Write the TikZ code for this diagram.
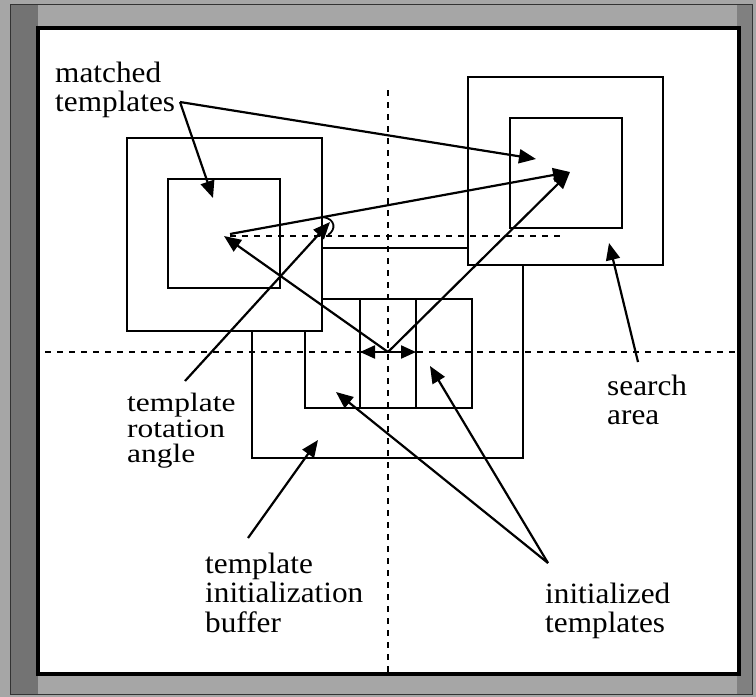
\documentclass[tikz,border=0pt]{standalone}
\usepackage{fontspec}
\setmainfont{Liberation Serif}
\usetikzlibrary{arrows.meta}
\begin{document}
\begin{tikzpicture}[x=1pt,y=-1pt,
  box/.style={draw=black,line width=2.4pt},
  guide/.style={draw=black,line width=2.2pt,dash pattern=on 6pt off 6pt},
  pointer/.style={draw=black,line width=2.2pt,-{Triangle[length=17pt,width=14pt]}},
  twohead/.style={draw=black,line width=2.2pt,{Triangle[length=15pt,width=13pt]}-{Triangle[length=15pt,width=13pt]}},
  lbl/.style={anchor=base west,inner sep=0pt,xscale=1.06,font=\fontsize{29.5}{30}\selectfont},
  smalllbl/.style={lbl,font=\fontsize{26.5}{27}\selectfont,xscale=1.12}
]
\useasboundingbox (0,0) rectangle (756,697);
% mount board and frame
\fill[black!35] (0,0) rectangle (756,697);
\fill[black!55] (10,4) rectangle (38,694);
\fill[black!50] (737,4) rectangle (752,694);
\draw[black!80,line width=1pt] (10,4) rectangle (752,694);
\fill[white] (40,30) rectangle (737,672);
\draw[black,line width=4pt] (38,28) rectangle (739,674);

% template initialization buffer and initialized templates
\draw[box] (252,248) rectangle (523,458);
\draw[box] (305,299) rectangle (472,408);
\draw[box] (360,299) -- (360,408);
\draw[box] (416,299) -- (416,408);

% search areas with matched templates
\draw[box,fill=white] (127,138) rectangle (322,331);
\draw[box] (168,179) rectangle (280,288);
\draw[box,fill=white] (468,77) rectangle (663,265);
\draw[box] (510,118) rectangle (622,228);

% reference axes
\draw[guide] (388,90) -- (388,672);
\draw[guide] (45,352) -- (735,352);
\draw[guide] (230,236) -- (562,236);

% key points
\coordinate (ctr) at (388,352);
\coordinate (pivotL) at (224,236);
\coordinate (tipR) at (570,172);
\coordinate (mtStart) at (180,102);
\coordinate (mtL) at (213,198);
\coordinate (mtR) at (536,159);
\coordinate (rotFoot) at (185,381);
\coordinate (rotTip) at (330,222);
\coordinate (saFoot) at (638,362);
\coordinate (saTip) at (609,243);
\coordinate (bufFoot) at (248,538);
\coordinate (bufTip) at (318,440);
\coordinate (itFoot) at (548,563);
\coordinate (itR) at (430,366);
\coordinate (itL) at (336,392);
\coordinate (cellL) at (360,352);
\coordinate (cellR) at (416,352);

% labels
\node[lbl] (mt1) at (55,82) {matched};
\node[lbl] (mt2) at (55,111) {templates};
\node[smalllbl] (ra1) at (127,411) {template};
\node[smalllbl] (ra2) at (127,437) {rotation};
\node[smalllbl] (ra3) at (127,462) {angle};
\node[lbl] (ib1) at (205,573) {template};
\node[lbl] (ib2) at (205,602) {initialization};
\node[lbl] (ib3) at (205,632) {buffer};
\node[lbl] (sa1) at (607,395) {search};
\node[lbl] (sa2) at (607,424) {area};
\node[lbl] (it1) at (545,603) {initialized};
\node[lbl] (it2) at (545,632) {templates};

% pointers
\draw[pointer] (mtStart) -- (mtL);
\draw[pointer] (mtStart) -- (mtR);
\draw[pointer] (ctr) -- (pivotL);
\draw[pointer] (ctr) -- (tipR);
\draw[pointer] (230,234) -- (tipR);
\draw[pointer] (rotFoot) -- (rotTip);
\draw[line width=1.8pt] (323,217) .. controls (336,219) and (336,230) .. (328,235);
\draw[pointer] (saFoot) -- (saTip);
\draw[pointer] (bufFoot) -- (bufTip);
\draw[pointer] (itFoot) -- (itR);
\draw[pointer] (itFoot) -- (itL);
\draw[twohead] (cellL) -- (cellR);
\end{tikzpicture}
\end{document}
